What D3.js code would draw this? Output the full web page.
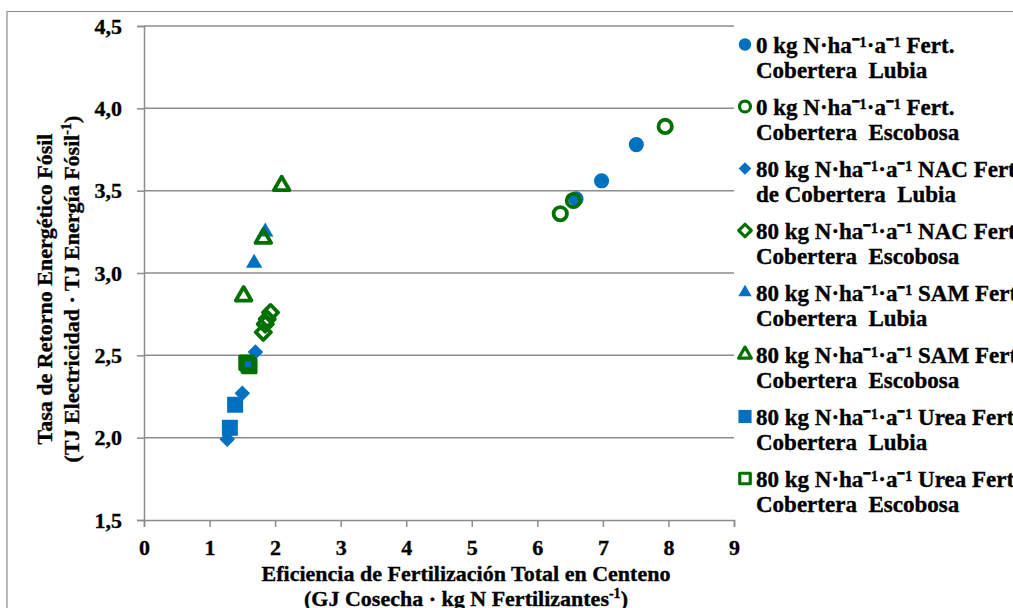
<!DOCTYPE html>
<html><head><meta charset="utf-8">
<script src="https://cdn.jsdelivr.net/npm/d3@7"></script>
<style>
html,body{margin:0;padding:0;background:#fff;}
svg text{font-family:"Liberation Serif","Times New Roman",serif;font-weight:bold;fill:#000;white-space:pre;stroke:#000;stroke-width:0.35px;}
</style></head>
<body>
<svg id="chart" width="1013" height="608"></svg>
<script>
// ---- data ----
const xTicks = [0,1,2,3,4,5,6,7,8,9];
const yTicks = [1.5,2.0,2.5,3.0,3.5,4.0,4.5];
const fmtY = d => d.toFixed(1).replace(".", ",");

const seriesNames = [
  ["0 kg N·ha⁻¹·a⁻¹ Fert.", "Cobertera  Lubia"],
  ["0 kg N·ha⁻¹·a⁻¹ Fert.", "Cobertera  Escobosa"],
  ["80 kg N·ha⁻¹·a⁻¹ NAC Fert.", "de Cobertera  Lubia"],
  ["80 kg N·ha⁻¹·a⁻¹ NAC Fert.", "Cobertera  Escobosa"],
  ["80 kg N·ha⁻¹·a⁻¹ SAM Fert.", "Cobertera  Lubia"],
  ["80 kg N·ha⁻¹·a⁻¹ SAM Fert.", "Cobertera  Escobosa"],
  ["80 kg N·ha⁻¹·a⁻¹ Urea Fert.", "Cobertera  Lubia"],
  ["80 kg N·ha⁻¹·a⁻¹ Urea Fert.", "Cobertera  Escobosa"]
];
const seriesShapes = ["circle","circle","diamond","diamond","triangle","triangle","square","square"];
const seriesFilled = [true,false,true,false,true,false,true,false];

const s0LubiaX = [6.59, 6.98, 7.51];
const s0LubiaY = [3.45, 3.56, 3.78];
const s0EscobX = [6.35, 6.55, 7.95];
const s0EscobY = [3.36, 3.44, 3.89];
const nacLubiaX = [1.27, 1.50, 1.70];
const nacLubiaY = [1.99, 2.27, 2.52];
const nacEscobX = [1.82, 1.85, 1.88, 1.93];
const nacEscobY = [2.64, 2.69, 2.72, 2.76];
const samLubiaX = [1.68, 1.85];
const samLubiaY = [3.06, 3.25];
const samEscobX = [1.52, 1.82, 2.10];
const samEscobY = [2.86, 3.21, 3.53];
const ureaLubiaX = [1.31, 1.39, 1.59];
const ureaLubiaY = [2.06, 2.20, 2.445];
const ureaEscobX = [1.565, 1.605];
const ureaEscobY = [2.455, 2.435];

const seriesX = [s0LubiaX, s0EscobX, nacLubiaX, nacEscobX, samLubiaX, samEscobX, ureaLubiaX, ureaEscobX];
const seriesY = [s0LubiaY, s0EscobY, nacLubiaY, nacEscobY, samLubiaY, samEscobY, ureaLubiaY, ureaEscobY];

// ---- chart ----
const blue = "#0070C0", green = "#007000", gridCol = "#8c8c8c";
const FONT = '"Liberation Serif","Times New Roman",serif';
const svg = d3.select("#chart");
const x = d3.scaleLinear().domain([0,9]).range([144,734]);
const y = d3.scaleLinear().domain([1.5,4.5]).range([520,26]);

// outer border
svg.append("path").attr("d","M7,608 V11.5 H1013").attr("fill","none").attr("stroke","#8c8c8c").attr("stroke-width",1.2);

// gridlines
svg.append("g").selectAll("line").data(yTicks.filter(d=>d>1.5)).join("line")
  .attr("x1",x(0)).attr("x2",x(9)).attr("y1",d=>y(d)).attr("y2",d=>y(d))
  .attr("stroke",gridCol).attr("stroke-width",1.5);

// axes
const yAxis = svg.append("g").attr("transform",`translate(${x(0)},0)`)
  .call(d3.axisLeft(y).tickValues(yTicks).tickFormat(fmtY).tickSize(7).tickPadding(15));
const xAxis = svg.append("g").attr("transform",`translate(0,${y(1.5)})`)
  .call(d3.axisBottom(x).tickValues(xTicks).tickFormat(d3.format("d")).tickSize(7).tickPadding(12));
[yAxis,xAxis].forEach(a=>{
  a.attr("font-family",FONT).attr("font-size",22).attr("font-weight","bold");
  a.select(".domain").attr("stroke",gridCol).attr("stroke-width",1.5);
  a.selectAll(".tick line").attr("stroke",gridCol).attr("stroke-width",1.5);
  a.selectAll(".tick text").attr("fill","#000")
    .attr("font-family",FONT).attr("font-size",22).attr("font-weight","bold");
});

// marker builder
function markerPath(shape, filled, legend){
  const k = legend ? 0.82 : 1;
  if(shape==="circle") return d3.symbol(d3.symbolCircle, (filled? 180 : 140)*k*k)();
  if(shape==="square") return d3.symbol(d3.symbolSquare, (filled? 256 : 165)*k*k)();
  if(shape==="diamond") return d3.symbol(d3.symbolSquare, (filled? 120 : 115)*k*k)();
  if(shape==="triangle") return d3.symbol(d3.symbolTriangle, (filled? 115 : 105)*k*k)();
}
function drawMarker(g, shape, filled, color, legend){
  const p = g.append("path").attr("d", markerPath(shape, filled, legend));
  if(shape==="diamond") p.attr("transform","rotate(45)");
  if(filled) p.attr("fill",color).attr("stroke","none");
  else p.attr("fill","none").attr("stroke",color).attr("stroke-width",legend?3.2:3.8).attr("stroke-linejoin","round");
}

const plotG = svg.append("g");
seriesX.forEach((xs,i)=>{
  const color = seriesFilled[i] ? blue : green;
  xs.forEach((xv,j)=>{
    const g = plotG.append("g").attr("transform",`translate(${x(xv)},${y(seriesY[i][j])})`);
    drawMarker(g, seriesShapes[i], seriesFilled[i], color, false);
  });
});

// legend
const leg = svg.append("g");
leg.append("rect").attr("x",737).attr("y",28).attr("width",276).attr("height",490).attr("fill","#fff");
seriesNames.forEach((lines,i)=>{
  const base = 52.5 + i*62;
  const color = seriesFilled[i] ? blue : green;
  const mg = leg.append("g").attr("transform",`translate(745,${base-8})`);
  drawMarker(mg, seriesShapes[i], seriesFilled[i], color, true);
  lines.forEach((t,k)=>{
    leg.append("text").attr("x",756).attr("y",base + k*25).style("font-size","23px").text(t);
  });
});

// axis titles
const yt = svg.append("text").style("font-size","22px").attr("text-anchor","middle");
yt.append("tspan").attr("x",0).attr("y",0).text("Tasa de Retorno Energético Fósil");
const yt2 = yt.append("tspan").attr("x",0).attr("y",27);
yt2.append("tspan").text("(TJ Electricidad · TJ Energía Fósil");
yt2.append("tspan").attr("dy",-8).style("font-size","14px").text("-1");
yt2.append("tspan").attr("dy",8).text(")");
yt.attr("transform","translate(52,289) rotate(-90)");

const xt = svg.append("text").style("font-size","22px").attr("text-anchor","middle");
xt.append("tspan").attr("x",466).attr("y",581).text("Eficiencia de Fertilización Total en Centeno");
const xt2 = xt.append("tspan").attr("x",466).attr("y",606);
xt2.append("tspan").text("(GJ Cosecha · kg N Fertilizantes");
xt2.append("tspan").attr("dy",-8).style("font-size","14px").text("-1");
xt2.append("tspan").attr("dy",8).text(")");
</script>
</body></html>
